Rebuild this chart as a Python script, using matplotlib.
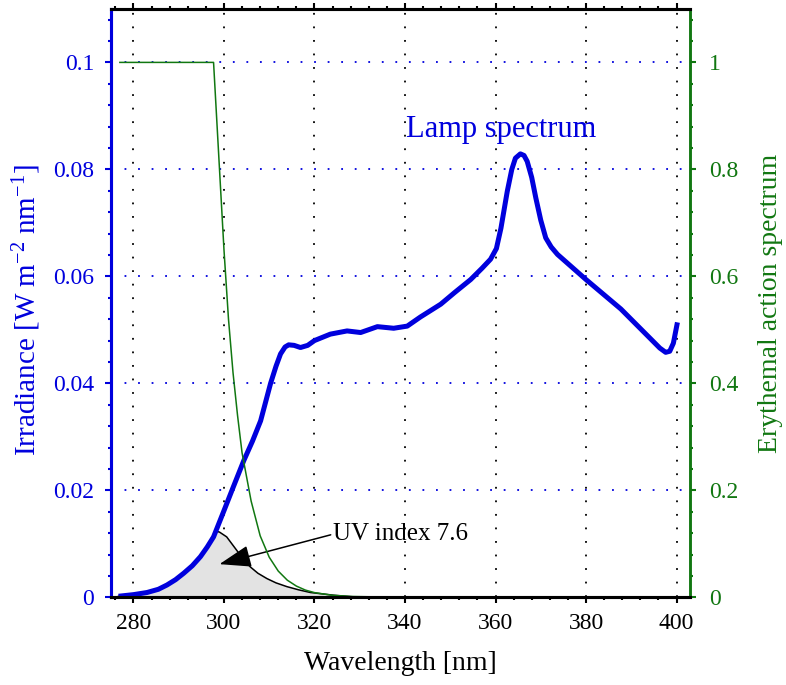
# coding: utf-8

import matplotlib
matplotlib.use("Agg")
import matplotlib.pyplot as plt
from matplotlib.ticker import MultipleLocator, FuncFormatter

plt.rcParams['font.family'] = ['Liberation Serif', 'DejaVu Serif']
plt.rcParams['mathtext.fontset'] = 'custom'
plt.rcParams['mathtext.rm'] = 'Liberation Serif'
plt.rcParams['mathtext.it'] = 'Liberation Serif:italic'

# Lamp spectrum [nm], [W m-2 nm-1]
lamp_wl = [276.7, 280, 283, 285.5, 287.4, 289.3, 291.1, 293, 294.8, 296.3, 297.7,
           300, 302, 304.4, 306.3, 308.1, 310.3, 311.5, 312.5, 313.5, 314.3, 315.5,
           316.9, 318.5, 320, 323.5, 327.2, 330.2, 333.9, 337.5, 340.5, 343.4,
           347.9, 351, 354.5, 357, 358.9, 360.2, 361.2, 362.6, 363.6, 364.4, 365.5,
           366.3, 367.0, 368.0, 368.9, 370, 371.1, 372.3, 373.7, 380, 387.7, 394.3,
           396.3, 397.6, 398.5, 399.3, 400.2]
lamp_irr = [0.0002, 0.0005, 0.0009, 0.0015, 0.0023, 0.0033, 0.0045, 0.0059, 0.0076,
            0.0094, 0.0113, 0.0162, 0.0205, 0.0256, 0.0292, 0.033, 0.040, 0.0432,
            0.0455, 0.0468, 0.0472, 0.0471, 0.0467, 0.0471, 0.048, 0.0492, 0.0498,
            0.0495, 0.0506, 0.0503, 0.0507, 0.0524, 0.0548, 0.057, 0.0594, 0.0615,
            0.0632, 0.0652, 0.0690, 0.0759, 0.0800, 0.0821, 0.0829, 0.0826, 0.0815,
            0.0785, 0.0747, 0.0705, 0.0672, 0.0655, 0.0641, 0.0594, 0.0539, 0.0483,
            0.0466, 0.0458, 0.0460, 0.0475, 0.0514]

# Erythemal action spectrum (right axis)
ery_wl = [277, 297.7, 300, 301, 302, 303, 304, 306, 308, 310, 312, 314, 316,
          318, 320, 324, 328, 335, 345, 360, 380, 400]
ery_val = [1.0, 1.0, 0.65, 0.52, 0.42, 0.34, 0.27, 0.18, 0.115, 0.075, 0.049,
           0.032, 0.021, 0.0135, 0.0088, 0.0037, 0.0016, 0.0006, 0.0003,
           0.0002, 0.0001, 0.00005]

# Erythemally weighted spectrum (grey area)
uv_wl = [276.7, 280, 283, 287.4, 291.1, 294.8, 296.3, 297.2, 298.1, 299.0,
         300.6, 303.6, 305.8, 307.5, 309.5, 311.5, 313.9, 316.5, 319.1, 324.2,
         330]
uv_irr = [0.0002, 0.0005, 0.0009, 0.0023, 0.0045, 0.0076, 0.0094, 0.0110,
          0.0124, 0.0122, 0.0113, 0.0079, 0.0057, 0.0045, 0.0035, 0.0027,
          0.0020, 0.0014, 0.0009, 0.0004, 0.0]

blue = '#0000dd'
green = '#117711'

fig = plt.figure(figsize=(7.86, 6.85), dpi=100, facecolor='white')
ax = fig.add_axes([0.141, 0.128, 0.737, 0.859])
ax2 = ax.twinx()

ax.set_xlim(275, 403)
ax.set_ylim(0, 0.11)
ax2.set_ylim(0, 1.1)

# grid
for xv in range(280, 401, 20):
    ax.plot([xv, xv], [0, 0.11], color='black', lw=1.3, dashes=(1, 6.5), zorder=1)
for yv in [0.02, 0.04, 0.06, 0.08, 0.1]:
    ax.plot([275, 403], [yv, yv], color=blue, lw=1.3, dashes=(1, 6.5), zorder=1)

ax.fill_between(uv_wl, uv_irr, 0, facecolor='#e3e3e3', edgecolor='none', zorder=2)
ax.plot(uv_wl, uv_irr, color='black', lw=1.1, zorder=3)
ax.plot(lamp_wl, lamp_irr, color=blue, lw=3.6, solid_joinstyle='round',
        solid_capstyle='butt', zorder=4)
ax2.plot(ery_wl, ery_val, color=green, lw=1.1)

ax.text(340.2, 0.0875, 'Lamp spectrum', color=blue, fontsize=22, va='center')
ax.annotate('UV index 7.6', xy=(299.0, 0.0062), xytext=(324.2, 0.0107),
            fontsize=18, va='baseline', ha='left',
            arrowprops=dict(arrowstyle='-|>,head_length=1.1,head_width=0.38',
                            color='black', lw=1.1, shrinkA=0, shrinkB=0,
                            relpos=(0, 0.5)))

# ticks
fmt = FuncFormatter(lambda v, p: '%g' % round(v, 4))
ax.xaxis.set_major_locator(MultipleLocator(20))
ax.xaxis.set_minor_locator(MultipleLocator(4))
ax.yaxis.set_major_locator(MultipleLocator(0.02))
ax.yaxis.set_minor_locator(MultipleLocator(0.004))
ax.yaxis.set_major_formatter(fmt)
ax2.yaxis.set_major_locator(MultipleLocator(0.2))
ax2.yaxis.set_minor_locator(MultipleLocator(0.04))
ax2.yaxis.set_major_formatter(fmt)

ax.tick_params(axis='x', which='both', top=True, direction='out', labelsize=17,
               color='black', width=1.5)
ax.tick_params(axis='x', which='major', length=4.5, pad=7)
ax.tick_params(axis='x', which='minor', length=2.5)
ax.tick_params(axis='y', which='both', direction='out', labelsize=17,
               color=blue, labelcolor=blue, width=1.5)
ax.tick_params(axis='y', which='major', length=4, pad=8)
ax.tick_params(axis='y', which='minor', length=2)
ax2.tick_params(axis='y', which='both', direction='out', labelsize=17,
                color=green, labelcolor=green, width=1.5)
ax2.tick_params(axis='y', which='major', length=4.5, pad=9)
ax2.tick_params(axis='y', which='minor', length=2.5)

for a in (ax, ax2):
    a.spines['top'].set_linewidth(2.2)
    a.spines['bottom'].set_linewidth(2.2)
    a.spines['left'].set_color(blue)
    a.spines['left'].set_linewidth(2.2)
    a.spines['right'].set_color(green)
    a.spines['right'].set_linewidth(1.8)

ax.set_xlabel('Wavelength [nm]', fontsize=20, labelpad=12)
ax.set_ylabel(r'Irradiance [W m$^{-2}$ nm$^{-1}$]', fontsize=21, color=blue)
ax.yaxis.set_label_coords(-0.117, 0.488)
ax2.set_ylabel('Erythemal action spectrum', fontsize=20, color=green, labelpad=14)

plt.savefig('out.png', dpi=100)
